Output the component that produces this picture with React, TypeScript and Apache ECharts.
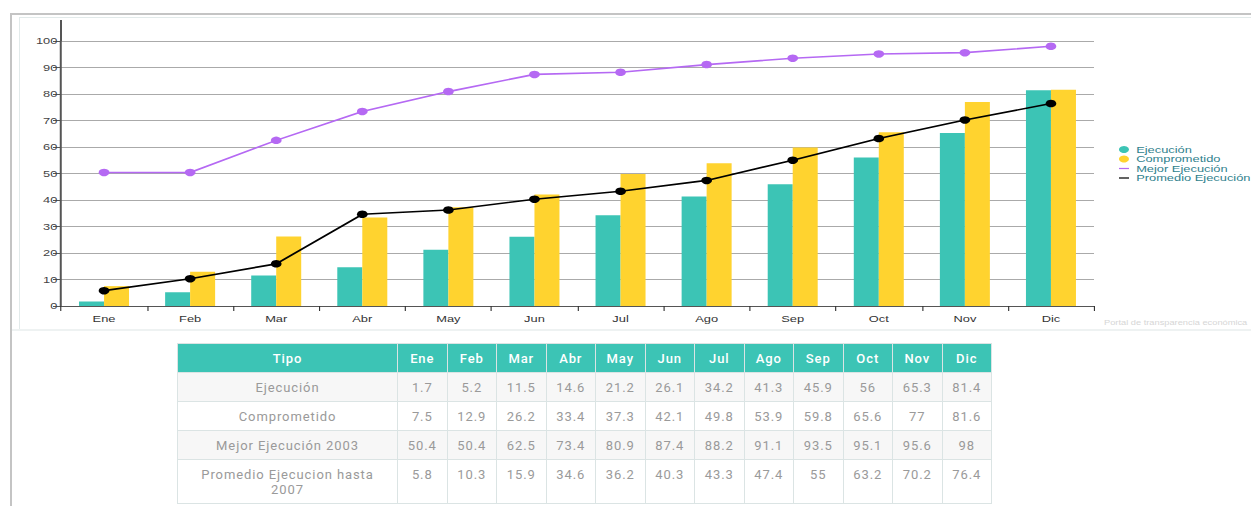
import React, { useEffect, useRef } from "react";
import * as echarts from "echarts";

const categories = ["Ene", "Feb", "Mar", "Abr", "May", "Jun", "Jul", "Ago", "Sep", "Oct", "Nov", "Dic"];
const ejecucion = [1.7, 5.2, 11.5, 14.6, 21.2, 26.1, 34.2, 41.3, 45.9, 56, 65.3, 81.4];
const comprometido = [7.5, 12.9, 26.2, 33.4, 37.3, 42.1, 49.8, 53.9, 59.8, 65.6, 77, 81.6];
const mejorEjecucion = [50.4, 50.4, 62.5, 73.4, 80.9, 87.4, 88.2, 91.1, 93.5, 95.1, 95.6, 98];
const promedioEjecucion = [5.8, 10.3, 15.9, 34.6, 36.2, 40.3, 43.3, 47.4, 55, 63.2, 70.2, 76.4];

const seriesNames = ["Ejecución", "Comprometido", "Mejor Ejecución", "Promedio Ejecución"];
const tableNames = ["Ejecución", "Comprometido", "Mejor Ejecución 2003", "Promedio Ejecucion hasta 2007"];
const tableHeader = "Tipo";
const watermark = "Portal de transparencia económica";

const yMin = 0;
const yMax = 100;
const yInterval = 10;

const TEAL = "#3cc4b5";
const YELLOW = "#ffd32f";
const PURPLE = "#b569f3";
const BLACK = "#000000";

const W = 1251;
const CW = 875; // chart drawn narrower then stretched horizontally
const S = W / CW;
const px = (x: number) => x / S;

export default function App() {
  const ref = useRef<HTMLDivElement>(null);

  useEffect(() => {
    if (!ref.current) return;
    const chart = echarts.init(ref.current, undefined, { renderer: "svg" });
    const font = "Liberation Sans, Arial, sans-serif";
    const lineIcon = "path://M0,0L8,0L8,1.4L0,1.4Z";
    const gridLeft = px(61);
    const gridRight = CW - px(1094);
    chart.setOption({
      animation: false,
      backgroundColor: "transparent",
      textStyle: { fontFamily: font },
      grid: { left: gridLeft, right: gridRight, top: 41, bottom: 29, containLabel: false },
      legend: {
        orient: "vertical",
        left: px(1119),
        top: 145,
        padding: 0,
        itemWidth: 7,
        itemHeight: 7,
        itemGap: 0.5,
        symbolKeepAspect: true,
        textStyle: { fontSize: 9, color: "#2f7f8d", fontFamily: font },
        data: [
          { name: seriesNames[0], icon: "circle" },
          { name: seriesNames[1], icon: "circle" },
          { name: seriesNames[2], icon: lineIcon, itemStyle: { borderWidth: 0 } },
          { name: seriesNames[3], icon: lineIcon, itemStyle: { borderWidth: 0 } },
        ],
      },
      xAxis: {
        type: "category",
        data: categories,
        boundaryGap: true,
        axisLine: { show: true, lineStyle: { color: "#555", width: 1 } },
        axisTick: { show: true, length: 5, interval: 0, alignWithLabel: false, lineStyle: { color: "#333", width: 0.8 } },
        axisLabel: { fontSize: 9, color: "#333", margin: 8, interval: 0, fontFamily: font },
        splitLine: { show: false },
      },
      yAxis: {
        type: "value",
        min: yMin,
        max: yMax,
        interval: yInterval,
        axisLine: { show: true, lineStyle: { color: "#555", width: 1.4 } },
        axisTick: { show: true, length: 5.6, lineStyle: { color: "#555", width: 1 } },
        axisLabel: { fontSize: 9, color: "#444", margin: 2.5, fontFamily: font },
        splitLine: { show: true, lineStyle: { color: "#aaaaaa", width: 1 } },
      },
      series: [
        {
          name: seriesNames[0],
          type: "bar",
          data: ejecucion,
          barWidth: px(25),
          barGap: "0%",
          itemStyle: { color: TEAL },
          z: 2,
        },
        {
          name: seriesNames[1],
          type: "bar",
          data: comprometido,
          barWidth: px(25),
          barGap: "0%",
          itemStyle: { color: YELLOW },
          z: 2,
        },
        {
          name: seriesNames[2],
          type: "line",
          data: mejorEjecucion,
          symbol: "circle",
          symbolSize: 7.5,
          showSymbol: true,
          lineStyle: { color: PURPLE, width: 1.6 },
          itemStyle: { color: PURPLE, borderWidth: 0 },
          z: 5,
        },
        {
          name: seriesNames[3],
          type: "line",
          data: promedioEjecucion,
          symbol: "circle",
          symbolSize: 7.5,
          showSymbol: true,
          lineStyle: { color: BLACK, width: 1.6 },
          itemStyle: { color: BLACK, borderWidth: 0 },
          z: 6,
        },
      ],
      graphic: [
        {
          type: "line",
          shape: { x1: gridLeft, y1: 20, x2: gridLeft, y2: 41 },
          style: { stroke: "#555", lineWidth: 1.4 },
          silent: true,
        },
        {
          type: "text",
          left: px(1104),
          top: 319,
          style: { text: watermark, fontSize: 6.5, fill: "#d6d6d6", fontFamily: font },
          silent: true,
        },
      ],
    });
    return () => chart.dispose();
  }, []);

  const cellBase: React.CSSProperties = {
    border: "1px solid #dbe4e4",
    padding: "7px 8px 6px",
    lineHeight: "15px",
    textAlign: "center",
    verticalAlign: "top",
    letterSpacing: "0.9px",
  };
  const numCell: React.CSSProperties = { ...cellBase, padding: "7px 1px 6px" };
  const rows = [ejecucion, comprometido, mejorEjecucion, promedioEjecucion];

  return (
    <div
      style={{
        position: "absolute",
        left: 0,
        top: 0,
        width: W,
        height: 506,
        overflow: "hidden",
        background: "#fff",
      }}
    >
      {/* outer frame */}
      <div style={{ position: "absolute", left: 10, top: 13, width: W - 10, height: 2, background: "#c4c4c4" }} />
      <div style={{ position: "absolute", left: 10, top: 13, width: 2, height: 506 - 13, background: "#c4c4c4" }} />
      {/* inner chart box */}
      <div style={{ position: "absolute", left: 19, top: 17, width: W - 19, height: 1, background: "#e2eaea" }} />
      <div style={{ position: "absolute", left: 19, top: 17, width: 1, height: 312, background: "#e2eaea" }} />
      <div style={{ position: "absolute", left: 12, top: 329, width: W - 12, height: 2, background: "#eef2f2" }} />

      <div
        style={{
          position: "absolute",
          left: 0,
          top: 0,
          width: CW,
          height: 335,
          transform: `scaleX(${S})`,
          transformOrigin: "0 0",
        }}
      >
        <div ref={ref} style={{ width: CW, height: 335 }} />
      </div>

      <table
        style={{
          position: "absolute",
          left: 177,
          top: 343,
          width: 814,
          borderCollapse: "collapse",
          tableLayout: "fixed",
          fontFamily: "Roboto, 'Noto Sans', sans-serif",
          fontSize: 13,
        }}
      >
        <colgroup>
          <col style={{ width: 220 }} />
          {categories.map((c) => (
            <col key={c} style={{ width: 49.5 }} />
          ))}
        </colgroup>
        <thead>
          <tr>
            <th style={{ ...cellBase, background: TEAL, color: "#fff", fontWeight: 500 }}>{tableHeader}</th>
            {categories.map((c) => (
              <th key={c} style={{ ...numCell, background: TEAL, color: "#fff", fontWeight: 500 }}>
                {c}
              </th>
            ))}
          </tr>
        </thead>
        <tbody>
          {rows.map((r, i) => (
            <tr key={i} style={{ background: i % 2 === 0 ? "#f7f7f7" : "#ffffff" }}>
              <td style={{ ...cellBase, color: "#9a9a9a" }}>{tableNames[i]}</td>
              {r.map((v, j) => (
                <td key={j} style={{ ...numCell, color: "#9a9a9a" }}>
                  {String(v)}
                </td>
              ))}
            </tr>
          ))}
        </tbody>
      </table>
    </div>
  );
}
